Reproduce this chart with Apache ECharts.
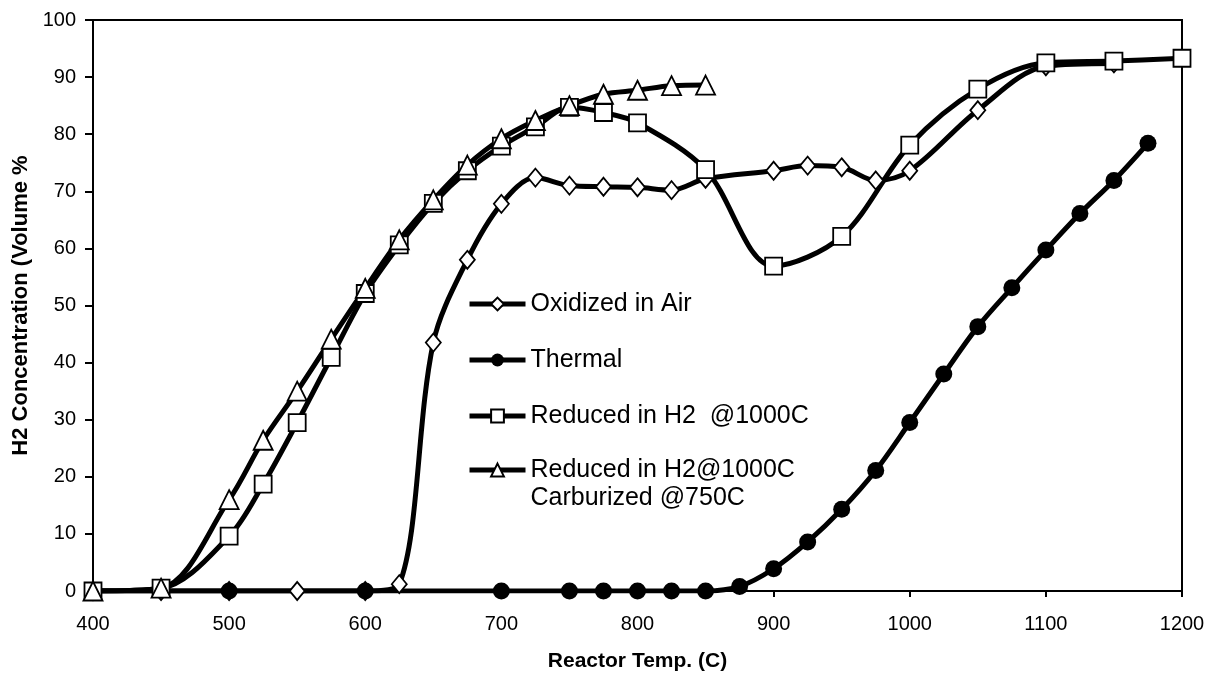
<!DOCTYPE html>
<html>
<head>
<meta charset="utf-8">
<script src="https://cdn.jsdelivr.net/npm/echarts@6/dist/echarts.min.js"></script>
<style>
  html, body { margin: 0; padding: 0; background: #fff; }
  #chart { width: 1211px; height: 677px; }
</style>
</head>
<body>
<div id="chart"></div>
<script>
// ---- data ----
const xTicks = [400, 500, 600, 700, 800, 900, 1000, 1100, 1200];
const yTicks = [0, 10, 20, 30, 40, 50, 60, 70, 80, 90, 100];

const seriesNames = [
  'Oxidized in Air',
  'Thermal',
  'Reduced in H2  @1000C',
  'Reduced in H2@1000C\nCarburized @750C'
];

const oxidizedT = [400, 450, 500, 550, 600, 625, 650, 675, 700, 725, 750, 775, 800, 825, 850, 900, 925, 950, 975, 1000, 1050, 1100, 1150];
const oxidizedV = [0, 0, 0, 0, 0, 1.2, 43.5, 58, 67.8, 72.4, 71, 70.8, 70.7, 70.2, 72.2, 73.6, 74.5, 74.2, 71.9, 73.6, 84.2, 91.9, 92.4];

const thermalT = [400, 500, 600, 700, 750, 775, 800, 825, 850, 875, 900, 925, 950, 975, 1000, 1025, 1050, 1075, 1100, 1125, 1150, 1175];
const thermalV = [0, 0, 0, 0, 0, 0, 0, 0, 0, 0.8, 3.9, 8.6, 14.3, 21.1, 29.5, 38, 46.3, 53.1, 59.7, 66.1, 71.9, 78.4];

const reducedT = [400, 450, 500, 525, 550, 575, 600, 625, 650, 675, 700, 725, 750, 775, 800, 850, 900, 950, 1000, 1050, 1100, 1150, 1200];
const reducedV = [0, 0.5, 9.6, 18.7, 29.5, 40.9, 52.1, 60.6, 67.9, 73.6, 77.9, 81.3, 84.7, 83.8, 82, 73.8, 56.9, 62.1, 78.1, 87.9, 92.5, 92.8, 93.3];

const carburizedT = [400, 450, 500, 525, 550, 575, 600, 625, 650, 675, 700, 725, 750, 775, 800, 825, 850];
const carburizedV = [0, 0.5, 16, 26.4, 35, 44.1, 53, 61.5, 68.5, 74.6, 79.2, 82.4, 85, 87, 87.7, 88.5, 88.6];

// ---- build ----
function pairs(t, v) { return t.map((x, i) => [x, v[i]]); }

const FONT = '"Liberation Sans", Arial, sans-serif';
const lineW = 5;

function mkSeries(name, data, symbol, size, fill) {
  return {
    name: name,
    type: 'line',
    data: data,
    smooth: 0.33,
    symbol: symbol,
    symbolSize: size,
    showAllSymbol: true,
    lineStyle: { color: '#000', width: lineW },
    itemStyle: { color: fill, borderColor: '#000', borderWidth: fill === '#000' ? 0 : 1.8 },
    emphasis: { disabled: true }
  };
}

const legendBase = {
  orient: 'vertical',
  left: 467,
  padding: 0,
  itemWidth: 56,
  itemHeight: 16,
  itemGap: 28,
  selectedMode: false,
  lineStyle: { color: '#000', width: 5 },
  formatter: function (name) { return name.indexOf('\n') >= 0 ? '\n' + name : name; },
  textStyle: { fontFamily: FONT, fontSize: 25, lineHeight: 28, color: '#000' }
};

const chart = echarts.init(document.getElementById('chart'), null, { renderer: 'canvas' });

chart.setOption({
  animation: false,
  backgroundColor: '#fff',
  grid: {
    left: 93, right: 29, top: 20, bottom: 83,
    show: true, borderColor: '#000', borderWidth: 2, backgroundColor: 'transparent'
  },
  legend: [
    Object.assign({}, legendBase, { top: 290, data: seriesNames.slice(0, 3) }),
    Object.assign({}, legendBase, { top: 428, data: seriesNames.slice(3) })
  ],
  xAxis: {
    type: 'value',
    min: xTicks[0],
    max: xTicks[xTicks.length - 1],
    interval: 100,
    name: 'Reactor Temp. (C)',
    nameLocation: 'middle',
    nameGap: 60,
    nameTextStyle: { fontFamily: FONT, fontSize: 21, fontWeight: 'bold', color: '#000' },
    axisLine: { show: true, onZero: false, lineStyle: { color: '#000', width: 2 } },
    axisTick: { show: true, inside: false, length: 6, lineStyle: { color: '#000', width: 2 } },
    axisLabel: { fontFamily: FONT, fontSize: 20, color: '#000', margin: 23, formatter: function (v) { return String(v); } },
    splitLine: { show: false }
  },
  yAxis: {
    type: 'value',
    min: yTicks[0],
    max: yTicks[yTicks.length - 1],
    interval: 10,
    name: 'H2 Concentration (Volume %',
    nameLocation: 'middle',
    nameGap: 60,
    nameTextStyle: { fontFamily: FONT, fontSize: 22, fontWeight: 'bold', color: '#000' },
    axisLine: { show: true, lineStyle: { color: '#000', width: 2 } },
    axisTick: { show: true, inside: false, length: 8, lineStyle: { color: '#000', width: 2 } },
    axisLabel: { fontFamily: FONT, fontSize: 20, color: '#000', margin: 17 },
    splitLine: { show: false }
  },
  series: [
    mkSeries(seriesNames[0], pairs(oxidizedT, oxidizedV), 'diamond', [15, 18], '#fff'),
    mkSeries(seriesNames[1], pairs(thermalT, thermalV), 'circle', 17, '#000'),
    mkSeries(seriesNames[2], pairs(reducedT, reducedV), 'rect', 17, '#fff'),
    mkSeries(seriesNames[3], pairs(carburizedT, carburizedV), 'triangle', 19, '#fff')
  ]
});
</script>
</body>
</html>
